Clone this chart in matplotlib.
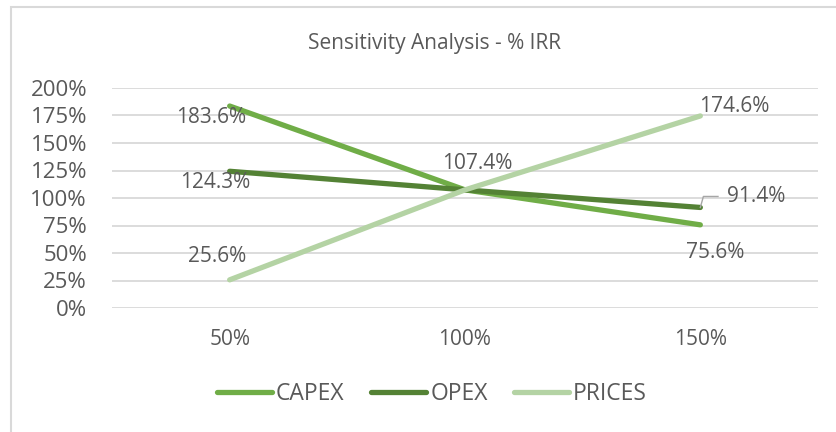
import matplotlib
matplotlib.use("Agg")
import matplotlib.pyplot as plt
from matplotlib.patches import Rectangle
from matplotlib.ticker import FuncFormatter

plt.rcParams['font.family'] = ['Open Sans', 'DejaVu Sans']

categories = ["50%", "100%", "150%"]
capex = [183.6, 107.4, 75.6]
opex = [124.3, 107.4, 91.4]
prices = [25.6, 107.4, 174.6]

W, H = 836, 432
fig = plt.figure(figsize=(W / 100, H / 100), dpi=100)

# chart border
fig.patches.append(Rectangle((11 / W, -0.1), 1.0, 1 - 7 / H + 0.1, transform=fig.transFigure,
                             fill=False, edgecolor="#D9D9D9", linewidth=1.5))

ax = fig.add_axes([112 / W, 1 - 308 / H, (818 - 112) / W, (308 - 88) / H])
x = range(len(categories))

txt = "#595959"
ax.plot(x, capex, color="#70AD47", lw=3.8, solid_capstyle="round", label="CAPEX", zorder=3)
ax.plot(x, opex, color="#548235", lw=3.8, solid_capstyle="round", label="OPEX", zorder=3)
ax.plot(x, prices, color="#B4D3A4", lw=3.8, solid_capstyle="round", label="PRICES", zorder=3)

ax.set_xlim(-0.5, 2.5)
ax.set_ylim(0, 200)
ax.set_yticks(range(0, 201, 25))
ax.yaxis.set_major_formatter(FuncFormatter(lambda v, p: "%d%%" % v))
ax.set_xticks(list(x))
ax.set_xticklabels(categories)
ax.grid(axis="y", color="#D9D9D9", lw=1.3)
ax.set_axisbelow(True)
for s in ax.spines.values():
    s.set_visible(False)
ax.tick_params(length=0, colors=txt)
ax.tick_params(axis="y", labelsize=16, pad=18)
ax.tick_params(axis="x", labelsize=15, pad=15)

lab = dict(fontsize=15, color=txt, ha="center", va="center", zorder=4)
ax.text(-0.077, capex[0] - 10, "%.1f%%" % capex[0], **lab)
ax.text(-0.06, opex[0] - 9.8, "%.1f%%" % opex[0], **lab)
ax.text(-0.055, prices[0] + 20.8, "%.1f%%" % prices[0], **lab)
ax.text(1.051, capex[1] + 23.6, "%.1f%%" % capex[1], **lab)
ax.text(2.145, prices[2] + 9, "%.1f%%" % prices[2], **lab)
ax.text(2.238, opex[2] + 10, "%.1f%%" % opex[2], **lab)
ax.text(2.065, capex[2] - 24.7, "%.1f%%" % capex[2], **lab)
# leader line for OPEX end label
ax.plot([2.0, 2.013, 2.075], [opex[2], opex[2] + 10, opex[2] + 10], color="#A6A6A6", lw=1.0, zorder=4)

leg = fig.legend(loc="center", bbox_to_anchor=(432 / W, 1 - 394 / H), ncol=3, frameon=False,
                 fontsize=16.5, handlelength=2.4, handletextpad=0.18, columnspacing=1.15)
for t in leg.get_texts():
    t.set_color(txt)

fig.text(434 / W, 1 - 43 / H, "Sensitivity Analysis - % IRR", ha="center", va="center",
         fontsize=15, color=txt)

fig.savefig("out.png", dpi=100)
